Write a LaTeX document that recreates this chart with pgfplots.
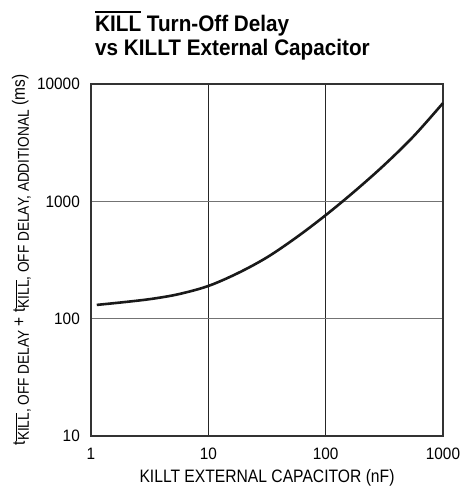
\documentclass[border=0pt]{standalone}
\usepackage{fontspec}
\setmainfont{Liberation Sans}[FakeStretch=0.87]
\newfontfamily\tickfont{Liberation Sans}[FakeStretch=0.93]
\newfontfamily\titlefont{Liberation Sans}[FakeStretch=0.92]
\usepackage{pgfplots}
\pgfplotsset{compat=1.18}
\newcommand{\ovl}[3]{\setbox0\hbox{#1}\rlap{\rule[\dimexpr\ht0+#2\relax]{\wd0}{#3}}\box0\relax}
\newcommand{\kl}{\ovl{KILL}{1.6pt}{0.8pt}}
\newcommand{\sub}[1]{\raisebox{-4pt}{\fontsize{15.7}{15.7}\selectfont #1}}
\begin{document}
\begin{tikzpicture}
\useasboundingbox (-91pt,-57pt) rectangle (374pt,436pt);
\begin{axis}[
  at={(0,0)}, anchor=south west,
  scale only axis,
  width=352pt, height=352pt,
  xmode=log, ymode=log,
  xmin=1, xmax=1000, ymin=10, ymax=10000,
  xtick={1,10,100,1000}, ytick={10,100,1000,10000},
  xticklabels={1,10,100,1000}, yticklabels={10,100,1000,10000},
  minor tick num=0,
  major tick length=0pt,
  minor tick length=0pt,
  grid=major,
  x grid style={black!85, line width=0.9pt},
  y grid style={black!55, line width=1pt},
  axis line style={black!80, line width=1.4pt},
  tick label style={font=\tickfont\fontsize{16.5}{16.5}\selectfont, inner sep=0pt},
  xticklabel style={anchor=north, yshift=-12pt},
  yticklabel style={anchor=east, xshift=-11pt},
  /pgf/number format/assume math mode=true,
  xlabel={KILLT EXTERNAL CAPACITOR (nF)},
  xlabel style={font=\fontsize{18}{18}\selectfont, at={(axis description cs:0.5,0)}, anchor=base, yshift=-47pt, inner sep=0pt},
  ylabel={t\sub{\kl, OFF DELAY} + t\sub{\kl, OFF DELAY, ADDITIONAL} (ms)},
  ylabel style={font=\fontsize{17.8}{17.8}\selectfont, at={(axis description cs:-0.1875,0.5)}, anchor=base, rotate=0, inner sep=0pt},
  clip=false,
]
\addplot[black!90, line width=2.6pt, smooth, tension=0.55] coordinates {
(1.12,131) (2,139) (3.37,148) (5.62,162) (10,190) (17.8,244) (31.6,333)
(56.2,492) (100,762) (178,1227) (316,2042) (562,3589) (1000,6880)
};
\node[anchor=base west, align=left, font=\titlefont\fontsize{22.5}{24}\bfseries, inner sep=0pt]
  at ([xshift=4pt, yshift=28pt]rel axis cs:0,1)
  {\ovl{KILL}{4pt}{1.5pt} Turn-Off Delay\\vs KILLT External Capacitor};
\end{axis}
\end{tikzpicture}
\end{document}
